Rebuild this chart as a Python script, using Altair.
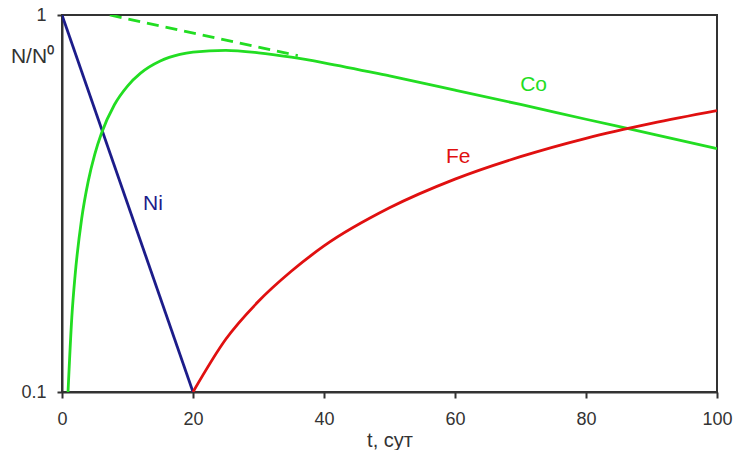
import altair as alt
import pandas as pd

ni_t = [0, 20]
ni_v = [1.0, 0.1]

co_t = [0.92, 1.5, 2, 3, 4, 5, 6, 8, 10, 12, 15, 18, 20, 25, 30, 35, 40, 50, 60, 70, 80, 90, 100]
co_v = [0.100, 0.158, 0.204, 0.288, 0.362, 0.427, 0.484, 0.578, 0.648, 0.701, 0.755, 0.786, 0.797,
        0.806, 0.794, 0.773, 0.747, 0.689, 0.632, 0.579, 0.529, 0.484, 0.442]

fe_t = [20, 25, 30, 35, 40, 50, 60, 70, 80, 90, 100]
fe_v = [0.100, 0.138, 0.174, 0.209, 0.244, 0.308, 0.367, 0.421, 0.471, 0.516, 0.558]

dash_t = [7.3, 36]
dash_v = [1.0, 0.78]

label_text = ["Ni", "Co", "Fe"]
label_t = [13.9, 72.0, 60.5]
label_v = [0.315, 0.652, 0.421]
label_col = ["#1c1c8a", "#22dd22", "#e01010"]

x_ticks = [0, 20, 40, 60, 80, 100]
y_ticks = [0.1, 1]

NI, CO, FE = "#1c1c8a", "#22dd22", "#e01010"

xs = alt.Scale(domain=[0, 100], nice=False, zero=False)
ys = alt.Scale(type="log", domain=[0.1, 1], nice=False)

xax = alt.Axis(values=x_ticks, title="t, сут", grid=False, labelFontSize=18, titleFontSize=20,
               labelColor="#333", titleColor="#333", domainColor="#333", domainWidth=2,
               tickColor="#333", tickWidth=2, tickSize=6, labelPadding=12, titlePadding=2,
               labelFlush=False,
               titleFontWeight="normal", labelFont="Liberation Sans", titleFont="Liberation Sans")
yax = alt.Axis(values=y_ticks, title="N/N⁰", grid=False, labelFontSize=18, titleFontSize=21,
               labelColor="#333", titleColor="#333", domainColor="#333", domainWidth=2,
               tickColor="#333", tickWidth=2, tickSize=5, labelPadding=11, labelFlush=False,
               titleAngle=0, titleX=-30, titleY=41, titleAlign="center", titleBaseline="middle",
               titleFontWeight="normal", labelFont="Liberation Sans", titleFont="Liberation Sans",
               format="~g")

def line(ts, vs, color, dash=None, interp="monotone"):
    df = pd.DataFrame({"t": ts, "v": vs})
    kw = dict(color=color, strokeWidth=2.8, interpolate=interp, clip=True)
    if dash:
        kw["strokeDash"] = dash
    return alt.Chart(df).mark_line(**kw).encode(
        x=alt.X("t:Q", scale=xs, axis=xax),
        y=alt.Y("v:Q", scale=ys, axis=yax),
    )

dash = line(dash_t, dash_v, CO, dash=[12, 7], interp="linear")
ni = line(ni_t, ni_v, NI, interp="linear")
co = line(co_t, co_v, CO)
fe = line(fe_t, fe_v, FE)

labels = alt.Chart(pd.DataFrame({"t": label_t, "v": label_v, "txt": label_text, "c": label_col})).mark_text(
    fontSize=21, font="Liberation Sans", align="center", baseline="middle"
).encode(
    x=alt.X("t:Q", scale=xs),
    y=alt.Y("v:Q", scale=ys),
    text="txt:N",
    color=alt.Color("c:N", scale=None),
)

chart = alt.layer(dash, ni, co, fe, labels).properties(
    width=655, height=377,
    padding={"left": 62, "top": 15, "right": 18, "bottom": 58},
    autosize=alt.AutoSizeParams(type="none"),
    background="white",
).configure_view(stroke="#333", strokeWidth=2)

chart.save("out.html", embed_options={"renderer": "svg", "actions": False})
